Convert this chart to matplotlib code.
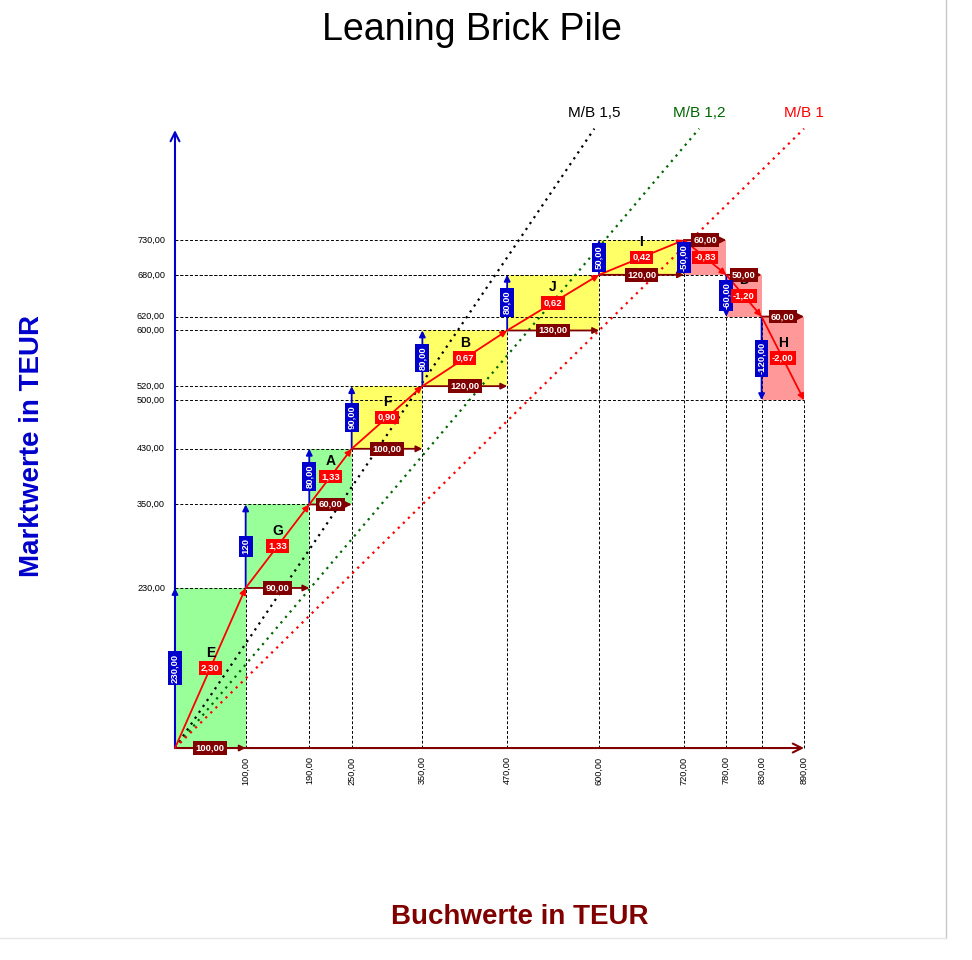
import matplotlib
matplotlib.use("Agg")
import matplotlib.pyplot as plt
from matplotlib.lines import Line2D
from matplotlib.patches import Rectangle

plt.rcParams['font.family'] = ['Liberation Sans', 'DejaVu Sans']

# bricks: name, book value width, market value change
names = ['E', 'G', 'A', 'F', 'B', 'J', 'I', 'C', 'D', 'H']
book = [100, 90, 60, 100, 120, 130, 120, 60, 50, 60]
market = [230, 120, 80, 90, 80, 80, 50, -50, -60, -120]
market_labels = ['230,00', '120', '80,00', '90,00', '80,00', '80,00', '50,00',
                 '-50,00', '-60,00', '-120,00']

mb_ratios = [1.5, 1.2, 1.0]
mb_labels = ['M/B 1,5', 'M/B 1,2', 'M/B 1']
mb_colors = ['black', '#006600', 'red']
mb_top = 890

DARKRED = '#800000'
BLUE = '#0000CC'


def fmt(v):
    return f"{v:.2f}".replace('.', ',')


def brick_color(r):
    if r > 1:
        return '#99FF99'
    if r >= 0:
        return '#FFFF66'
    return '#FF9999'


def arrow(ax, start, end, color, lw=1.3, style='-|>', ms=9, z=5):
    ax.annotate('', xy=end, xytext=start,
                arrowprops=dict(arrowstyle=style, color=color, lw=lw,
                                mutation_scale=ms, shrinkA=0, shrinkB=0),
                zorder=z)


def box(ax, x, y, s, fc, rot=0):
    ax.text(x, y, s, color='white', fontsize=6.8, fontweight='bold',
            ha='center', va='center', rotation=rot, zorder=8,
            bbox=dict(boxstyle='square,pad=0.25', fc=fc, ec='none'))


fig = plt.figure(figsize=(9.72, 9.6), dpi=100)
ax = fig.add_axes([0, 0, 1, 1])
ax.set_xlim(-247.6, 1127.7)
ax.set_ylim(-304.6, 1074.9)
ax.axis('off')

# cumulative corners
xs, ys = [0], [0]
for b, m in zip(book, market):
    xs.append(xs[-1] + b)
    ys.append(ys[-1] + m)

for i, name in enumerate(names):
    x0, y0, x1, y1 = xs[i], ys[i], xs[i + 1], ys[i + 1]
    r = market[i] / book[i]
    ax.add_patch(Rectangle((x0, min(y0, y1)), x1 - x0, abs(y1 - y0),
                           fc=brick_color(r), ec='none', zorder=1))

# guide lines
for x, y in zip(xs[1:], ys[1:]):
    ax.plot([0, x], [y, y], color='black', lw=0.7, ls=(0, (3, 2)), zorder=2)
    ax.plot([x, x], [0, y], color='black', lw=0.7, ls=(0, (3, 2)), zorder=2)

# M/B reference lines
for r, lab, c in zip(mb_ratios, mb_labels, mb_colors):
    xe = mb_top / r
    ax.plot([0, xe], [0, mb_top], color=c, lw=1.6, ls=(0, (1, 2.2)), zorder=3)
    ax.text(xe, 913, lab, color=c, fontsize=11, ha='center', va='center')

# axes
arrow(ax, (0, 0), (890, 0), DARKRED, lw=1.5, style='->', ms=16, z=4)
arrow(ax, (0, 0), (0, 888), BLUE, lw=1.5, style='->', ms=16, z=4)

for i, name in enumerate(names):
    x0, y0, x1, y1 = xs[i], ys[i], xs[i + 1], ys[i + 1]
    r = market[i] / book[i]
    arrow(ax, (x0, y0), (x1, y0), DARKRED)
    arrow(ax, (x0, y0), (x0, y1), BLUE)
    arrow(ax, (x0, y0), (x1, y1), 'red')
    mx, my = (x0 + x1) / 2, (y0 + y1) / 2
    box(ax, mx, y0, fmt(book[i]), DARKRED)
    box(ax, x0, my, market_labels[i], BLUE, rot=90)
    box(ax, mx, my, fmt(r), '#FF0000')
    ax.annotate(name, (mx, my), xytext=(0, 11), textcoords='offset points',
                ha='center', va='center', fontsize=10, fontweight='bold',
                zorder=7)

# tick labels
for y in sorted(set(ys[1:])):
    ax.text(-14, y, fmt(y), fontsize=6.6, ha='right', va='center')
for x in xs[1:]:
    ax.text(x, -12, fmt(x), fontsize=6.6, ha='center', va='top', rotation=90)

fig.text(0.4856, 0.969, 'Leaning Brick Pile', fontsize=27, ha='center',
         va='center', family=['Liberation Sans Narrow', 'Liberation Sans'])
fig.text(0.0329, 0.5354, 'Marktwerte in TEUR', fontsize=20, fontweight='bold',
         color=BLUE, rotation=90, ha='center', va='center')
fig.text(0.535, 0.0448, 'Buchwerte in TEUR', fontsize=20, fontweight='bold',
         color=DARKRED, ha='center', va='center')

# page border
fig.add_artist(Line2D([0.9733, 0.9733], [0.0229, 1], color='#c8c8c8', lw=1))
fig.add_artist(Line2D([0, 0.9733], [0.0229, 0.0229], color='#e6e6e6', lw=1))

fig.savefig('out.png', dpi=100)
